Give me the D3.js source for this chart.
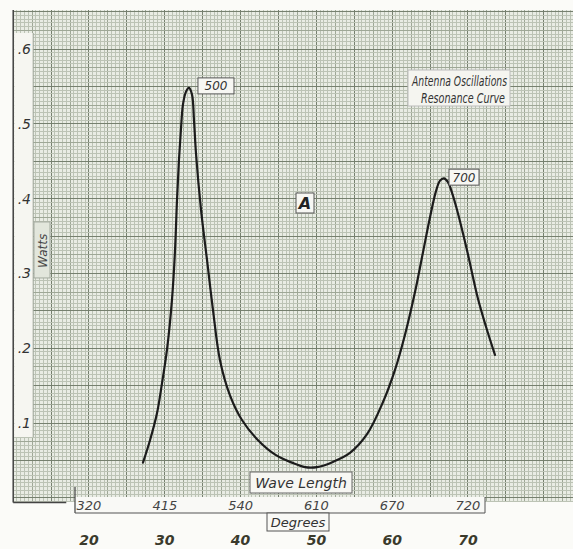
<!DOCTYPE html>
<html><head><meta charset="utf-8">
<script src="https://cdn.jsdelivr.net/npm/d3@7"></script>
<style>
html,body{margin:0;padding:0;background:#fff;}
svg{display:block;}
text{font-family:"DejaVu Sans","Liberation Sans",sans-serif;font-style:italic;}
</style></head>
<body>
<script>
// ---- data ----
const degrees = [27.12,28.05,28.97,29.63,30.29,30.95,31.35,31.61,31.87,32.14,32.40,32.80,33.19,33.59,33.85,34.12,34.78,35.57,36.36,37.28,38.60,40.18,42.30,44.67,46.78,48.50,50.08,52.19,54.43,56.68,58.79,60.37,61.69,63.01,64.06,64.99,65.78,66.31,66.83,67.36,67.89,68.55,69.87,71.32,72.37,73.56];
const watts   = [0.047,0.077,0.113,0.153,0.198,0.265,0.331,0.398,0.452,0.494,0.526,0.543,0.548,0.539,0.505,0.460,0.385,0.318,0.251,0.184,0.137,0.104,0.077,0.057,0.047,0.041,0.041,0.048,0.060,0.085,0.128,0.171,0.218,0.275,0.328,0.375,0.410,0.424,0.427,0.422,0.408,0.385,0.331,0.266,0.229,0.191];
const degreeTicks = [20,30,40,50,60,70];
const waveLengthTicks = [320,415,540,610,670,720];
const wattTicks = [0.1,0.2,0.3,0.4,0.5,0.6];
const wattTickLabels = [".1",".2",".3",".4",".5",".6"];
const peakLabels = [{deg:33.19, w:0.548, text:"500"},{deg:66.31, w:0.426, text:"700"}];

const W = 573, H = 549;
const x = d3.scaleLinear().domain([10,84]).range([13.2,574.1]);
const y = d3.scaleLinear().domain([0,0.65]).range([497.8,11.6]);

const svg = d3.select("body").append("svg").attr("width",W).attr("height",H);
svg.append("rect").attr("width",W).attr("height",H).attr("fill","#fbfbf8");

// graph paper
const gx0 = x(10), gx1 = W, gy0 = y(0.652), gy1 = y(-0.005);
svg.append("rect").attr("x",gx0).attr("y",gy0).attr("width",gx1-gx0).attr("height",gy1-gy0).attr("fill","#e9ece4");
const grid = svg.append("g").attr("shape-rendering","crispEdges");
const col = r => r%10===0 ? "#76806f" : (r%5===0 ? "#9ea796" : "#bcc3b5");
const vx = d3.range(10, 84.01, 0.5);
grid.selectAll(".v").data(vx).join("line")
  .attr("x1",d=>x(d)).attr("x2",d=>x(d)).attr("y1",gy0).attr("y2",gy1)
  .attr("stroke",d=>col(Math.round(d*2))).attr("stroke-width",1);
const hy = d3.range(-0.005, 0.6501, 0.005);
grid.selectAll(".h").data(hy).join("line")
  .attr("y1",d=>y(d)).attr("y2",d=>y(d)).attr("x1",gx0).attr("x2",gx1)
  .attr("stroke",d=>col(Math.round(d*200))).attr("stroke-width",1);
// frame
svg.append("line").attr("x1",gx0).attr("x2",gx0).attr("y1",gy0).attr("y2",gy1+1).attr("stroke","#444").attr("stroke-width",1.5);
svg.append("line").attr("x1",gx0).attr("x2",x(17)).attr("y1",gy1+1).attr("y2",gy1+1).attr("stroke","#444").attr("stroke-width",1.5);

// y label strip
svg.append("rect").attr("x",gx0+1).attr("y",33).attr("width",19).attr("height",404).attr("fill","#f6f6f1");
svg.append("line").attr("x1",gx0+20).attr("x2",gx0+20).attr("y1",33).attr("y2",437).attr("stroke","#9aa196").attr("stroke-width",1);
svg.selectAll(".yl").data(wattTicks).join("text")
  .attr("x",31).attr("y",d=>y(d)+5).attr("text-anchor","end")
  .attr("font-size",14).attr("fill","#333").text((d,i)=>wattTickLabels[i]);

// Watts label
const wl = svg.append("g").attr("transform",`translate(42,${y(0.33)}) rotate(-90)`);
wl.append("rect").attr("x",-27).attr("y",-8).attr("width",56).attr("height",16).attr("fill","#e2e6dc").attr("stroke","#a3aa9f");
wl.append("text").attr("text-anchor","middle").attr("y",5).attr("font-size",12).attr("fill","#444").text("Watts");

// curve
const pts = degrees.map((d,i)=>[d,watts[i]]);
svg.append("path").datum(pts)
  .attr("d",d3.line().x(d=>x(d[0])).y(d=>y(d[1])).curve(d3.curveCatmullRom.alpha(0.5)))
  .attr("fill","none").attr("stroke","#1c1c1c").attr("stroke-width",2.2).attr("stroke-linecap","round");

// peak labels
peakLabels.forEach(p=>{
  const wdt = p.text==="500"?36:30;
  const g = svg.append("g").attr("transform",`translate(${x(p.deg)+9},${y(p.w)-10})`);
  g.append("rect").attr("x",0).attr("y",0).attr("width",wdt).attr("height",16).attr("fill","#f7f7f3").attr("stroke","#555").attr("stroke-width",1);
  g.append("text").attr("x",wdt/2).attr("y",12.5).attr("text-anchor","middle").attr("font-size",12).attr("fill","#333").text(p.text);
});

// title box
const tb = svg.append("g");
tb.append("rect").attr("x",408).attr("y",70).attr("width",102).attr("height",36).attr("fill","#f5f5f0").attr("stroke","#bbb");
tb.append("text").attr("x",412).attr("y",86).attr("textLength",95).attr("lengthAdjust","spacingAndGlyphs").attr("font-size",14).attr("fill","#333").text("Antenna Oscillations");
tb.append("text").attr("x",421).attr("y",103).attr("textLength",84).attr("lengthAdjust","spacingAndGlyphs").attr("font-size",14).attr("fill","#333").text("Resonance Curve");

// A box
svg.append("rect").attr("x",296).attr("y",193).attr("width",18).attr("height",20).attr("fill","#f7f7f3").attr("stroke","#555");
svg.append("text").attr("x",305).attr("y",209).attr("text-anchor","middle").attr("font-size",16).attr("font-weight","bold").attr("fill","#222").text("A");

// Wave Length box
svg.append("rect").attr("x",250).attr("y",472).attr("width",102).attr("height",21).attr("fill","#f7f7f3").attr("stroke","#666");
svg.append("text").attr("x",301).attr("y",488).attr("text-anchor","middle").attr("font-size",14).attr("fill","#333").text("Wave Length");

// wavelength strip
svg.append("rect").attr("x",75).attr("y",497).attr("width",410).attr("height",16).attr("fill","#f9f9f6");
svg.append("line").attr("x1",75).attr("x2",75).attr("y1",487).attr("y2",513).attr("stroke","#444").attr("stroke-width",1.2);
svg.append("line").attr("x1",75).attr("x2",485).attr("y1",513).attr("y2",513).attr("stroke","#555").attr("stroke-width",1.2);
svg.append("line").attr("x1",485).attr("x2",485).attr("y1",497).attr("y2",513).attr("stroke","#555").attr("stroke-width",1);
svg.selectAll(".wl").data(waveLengthTicks).join("text")
  .attr("x",(d,i)=>x(degreeTicks[i])).attr("y",510).attr("text-anchor","middle")
  .attr("font-size",13).attr("fill","#444").text(d=>d);

// Degrees box
svg.append("rect").attr("x",267).attr("y",513).attr("width",62).attr("height",18).attr("fill","#f9f9f6").attr("stroke","#555");
svg.append("text").attr("x",298).attr("y",527).attr("text-anchor","middle").attr("font-size",13).attr("fill","#333").text("Degrees");

// degree axis labels
svg.selectAll(".dl").data(degreeTicks).join("text")
  .attr("x",d=>x(d)).attr("y",545).attr("text-anchor","middle")
  .attr("font-size",14).attr("font-weight","bold").attr("fill","#3a3a2c").text(d=>d);
</script>
</body></html>
